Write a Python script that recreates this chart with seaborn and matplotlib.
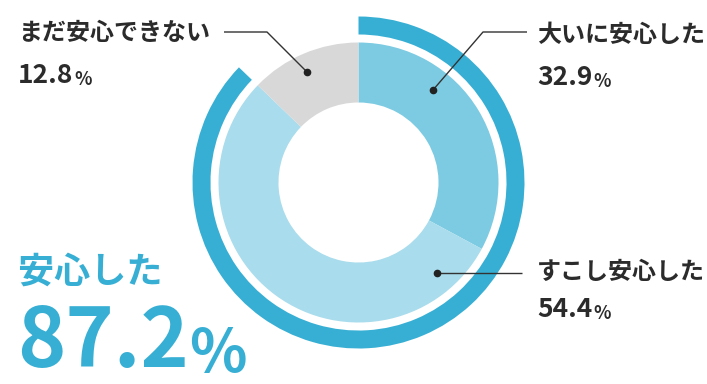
import matplotlib
matplotlib.use("Agg")
import matplotlib.pyplot as plt
import seaborn as sns

# ---- data ----
categories = ["大いに安心した", "すこし安心した", "まだ安心できない"]
shares = [32.9, 54.4, 12.8]
share_labels = ["32.9", "54.4", "12.8"]
relieved_label = "安心した"
relieved_total = 87.2
relieved_total_label = "87.2"

# ---- style ----
sns.set_theme(style="white")
plt.rcParams["font.family"] = ["Noto Sans CJK JP", "DejaVu Sans"]

slice_colors = ["#7ccbe2", "#a9dcec", "#d8d8d8"]
arc_color = "#37afd4"
text_color = "#2b2b2b"
W, H = 707, 384

fig = plt.figure(figsize=(W / 100, H / 100), dpi=100)
ax = fig.add_axes([0, 0, 1, 1])

cx, cy = 358.5, H - 182.5

# inner donut
ax.pie(shares, colors=slice_colors, startangle=90, counterclock=False,
       radius=140, center=(cx, cy),
       wedgeprops=dict(width=60, linewidth=0))

# outer arc (share of relieved)
ax.pie([relieved_total, 100 - relieved_total], colors=[arc_color, "none"],
       startangle=90, counterclock=False, radius=166, center=(cx, cy),
       wedgeprops=dict(width=18, linewidth=0))

ax.set_xlim(0, W)
ax.set_ylim(0, H)
ax.set_aspect("equal")
ax.axis("off")

# ---- leader lines (layout) ----
leaders = [
    [(527, H - 32), (483, H - 32), (433, H - 90)],   # 大いに
    [(522, H - 273), (437, H - 273)],                # すこし
    [(224, H - 32), (267, H - 32), (307, H - 72)],   # まだ
]
for pts in leaders:
    xs = [p[0] for p in pts]
    ys = [p[1] for p in pts]
    ax.plot(xs, ys, color="#333333", lw=1.0, solid_capstyle="butt")
    ax.plot(xs[-1], ys[-1], "o", color="#222222", ms=4.5)

# ---- labels ----
label_pos = [
    (537, H - 35, H - 85),   # 大いに
    (537, H - 272, H - 317), # すこし
    (18, H - 33, H - 83),    # まだ
]
for cat, lab, (x, ycat, ynum) in zip(categories, share_labels, label_pos):
    ax.text(x, ycat, cat, fontsize=17.3, fontweight="bold", color=text_color,
            ha="left", va="center")
    t = ax.text(x, ynum, lab, fontsize=19, fontweight="bold", color=text_color,
                ha="left", va="baseline")
    ax.annotate("%", xy=(1, 0), xycoords=t, xytext=(1, 0),
                textcoords="offset points", fontsize=13, fontweight="bold",
                color=text_color, ha="left", va="bottom")

# big relieved summary
ax.text(18, H - 272, relieved_label, fontsize=26, fontweight="bold",
        color=arc_color, ha="left", va="center")
big = ax.text(17, H - 367, relieved_total_label, fontsize=59, fontweight="bold",
              color=arc_color, ha="left", va="baseline")
ax.annotate("%", xy=(1, 0), xycoords=big, xytext=(0, 0),
            textcoords="offset points", fontsize=43, fontweight="bold",
            color=arc_color, ha="left", va="bottom")

fig.savefig("out.png", dpi=100, facecolor="white")
